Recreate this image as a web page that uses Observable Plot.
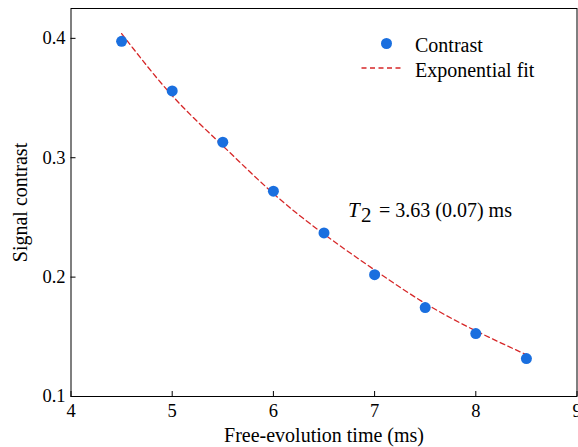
<!DOCTYPE html>
<html><head><meta charset="utf-8">
<script src="https://cdn.jsdelivr.net/npm/d3@7"></script>
<script src="https://cdn.jsdelivr.net/npm/@observablehq/plot@0.6"></script>
<style>body{margin:0;background:#fff;}</style>
</head><body><div id="chart"></div>
<script>
const times = [4.5, 5, 5.5, 6, 6.5, 7, 7.5, 8, 8.5];
const contrast = [0.3975, 0.356, 0.313, 0.272, 0.237, 0.202, 0.1745, 0.1527, 0.1318];
const fitValues = [0.404, 0.352, 0.310, 0.270, 0.236, 0.206, 0.178, 0.155, 0.135];
const xTicks = [4, 5, 6, 7, 8, 9];
const yTicks = [0.1, 0.2, 0.3, 0.4];

const pts = times.map((t, i) => ({t, c: contrast[i]}));
const fit = times.map((t, i) => ({t, c: fitValues[i]}));
const blue = "#1a6fdf", red = "#d62728";

function legendMark(index, scales, values, dim) {
  const g = d3.create("svg:g");
  const x0 = dim.marginLeft, y0 = dim.marginTop;
  g.append("line").attr("x1", x0 + 291).attr("x2", x0 + 333)
    .attr("y1", y0 + 60).attr("y2", y0 + 60)
    .attr("stroke", red).attr("stroke-width", 1.3).attr("stroke-dasharray", "5,3.5");
  return g.node();
}

const chart = Plot.plot({
  width: 578, height: 447,
  marginLeft: 70.5, marginRight: 1.5, marginTop: 8, marginBottom: 51,
  style: {fontFamily: "Liberation Serif", background: "white"},
  x: {domain: [4, 9]},
  y: {domain: [0.1, 0.425]},
  marks: [
    Plot.frame({stroke: "black", strokeWidth: 1}),
    Plot.axisX({ticks: xTicks, tickFormat: d3.format("d"), tickSize: -5, tickPadding: 12, fontSize: 18.5, label: null}),
    Plot.axisX({ticks: [], label: "Free-evolution time (ms)", labelArrow: "none", labelAnchor: "center", labelOffset: 45, fontSize: 20}),
    Plot.axisY({ticks: yTicks, tickFormat: d3.format(".1f"), tickSize: -5, tickPadding: 10.5, fontSize: 18.5, label: null}),
    Plot.axisY({ticks: [], label: "Signal contrast", labelArrow: "none", labelAnchor: "center", labelOffset: 58, fontSize: 20}),
    Plot.line(fit, {x: "t", y: "c", curve: "natural", stroke: red, strokeWidth: 1.3, strokeDasharray: "5,3.5"}),
    Plot.dot(pts, {x: "t", y: "c", r: 5.5, fill: blue}),
    Plot.dot([0], {frameAnchor: "top-left", dx: 315.5, dy: 35, r: 5.5, fill: blue}),
    Plot.text(["Contrast"], {frameAnchor: "top-left", dx: 344, dy: 43, textAnchor: "start", lineAnchor: "bottom", fontSize: 20, fill: "black"}),
    Plot.text(["Exponential fit"], {frameAnchor: "top-left", dx: 344, dy: 68, textAnchor: "start", lineAnchor: "bottom", fontSize: 20, fill: "black"}),
    legendMark,
    Plot.text(["T"], {frameAnchor: "top-left", dx: 277, dy: 208, textAnchor: "start", lineAnchor: "bottom", fontSize: 21, fontStyle: "italic", fill: "black"}),
    Plot.text(["2"], {frameAnchor: "top-left", dx: 290, dy: 213, textAnchor: "start", lineAnchor: "bottom", fontSize: 21, fill: "black"}),
    Plot.text(["= 3.63 (0.07) ms"], {frameAnchor: "top-left", dx: 308, dy: 208, textAnchor: "start", lineAnchor: "bottom", fontSize: 20, fill: "black"})
  ]
});
document.getElementById("chart").appendChild(chart);
</script></body></html>
